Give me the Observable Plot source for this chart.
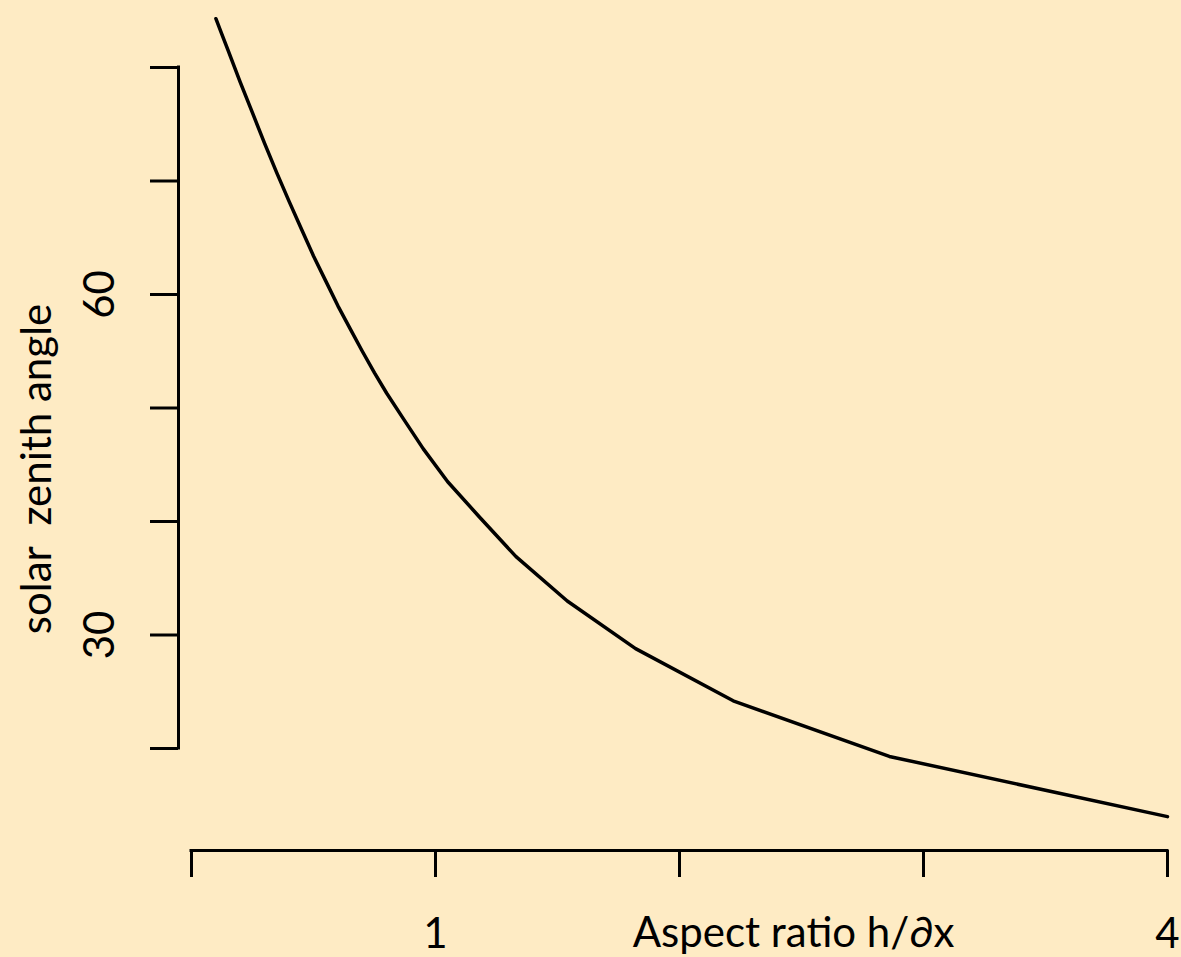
<!DOCTYPE html>
<html><head><meta charset="utf-8">
<script src="https://cdn.jsdelivr.net/npm/d3@7"></script>
<script src="https://cdn.jsdelivr.net/npm/@observablehq/plot@0.6"></script>
<style>
html,body{margin:0;padding:0;background:#FEEBC4;}
#chart svg{display:block}
svg text{white-space:pre}
</style></head><body><div id="chart"></div>
<script>
// Curve: aspect ratio h/∂x vs solar zenith angle (degrees)
const aspectRatio = [0.10, 0.125, 0.15, 0.175, 0.20, 0.25, 0.30, 0.35, 0.40, 0.45, 0.50, 0.55, 0.60, 0.65, 0.70, 0.75, 0.80, 0.87, 0.95, 1.05, 1.18, 1.33, 1.54, 1.82, 2.22, 2.86, 4.00];
const zenithAngle = [84.3, 82.9, 81.5, 80.1, 78.7, 76.0, 73.3, 70.7, 68.2, 65.8, 63.4, 61.2, 59.0, 57.0, 55.0, 53.1, 51.3, 49.0, 46.4, 43.5, 40.4, 36.9, 33.0, 28.8, 24.2, 19.3, 14.0];
const xTicks = [0, 1, 2, 3, 4];
const xTickLabels = ["", "1", "", "", "4"];
const yTicks = [20, 30, 40, 50, 60, 70, 80];
const yTickLabels = ["", "30", "", "", "60", "", ""];
const xTitle = "Aspect ratio h/\u2202x";
const yTitle = "solar  zenith angle";

const data = aspectRatio.map((a, i) => ({a, z: zenithAngle[i]}));
const xLab = new Map(xTicks.map((t, i) => [t, xTickLabels[i]]));
const yLab = new Map(yTicks.map((t, i) => [t, yTickLabels[i]]));
const font = "Lato, 'Open Sans', sans-serif";
const fs = 42;

const chart = Plot.plot({
  width: 1181, height: 957,
  marginLeft: 191, marginRight: 14, marginTop: 67, marginBottom: 209,
  x: {domain: [0, 4], axis: null},
  y: {domain: [20, 80], axis: null},
  style: {background: "#FEEBC4", fontFamily: font, color: "#000", overflow: "visible"},
  marks: [
    // y axis
    Plot.ruleX([0], {y1: 20, y2: 80, dx: -13, strokeWidth: 3, strokeLinecap: "square"}),
    Plot.axisY(yTicks, {anchor: "left", tickSize: 28, dx: -13, strokeWidth: 3,
      tickFormat: d => yLab.get(d) ?? "", tickRotate: -90, textAnchor: "middle",
      lineAnchor: "bottom", tickPadding: 37, fontSize: fs, label: null}),
    // x axis
    Plot.ruleY([20], {x1: 0, x2: 4, dy: 102, strokeWidth: 3, strokeLinecap: "square"}),
    Plot.axisX(xTicks, {anchor: "bottom", tickSize: 27, dy: 102, strokeWidth: 3,
      tickFormat: d => xLab.get(d) ?? "", lineAnchor: "bottom", tickPadding: 70,
      fontSize: fs, label: null}),
    // titles
    Plot.text([xTitle], {frameAnchor: "bottom", dx: 114, dy: 198, lineAnchor: "bottom", textAnchor: "middle", fontSize: fs, fill: "#000"}),
    Plot.text([yTitle], {frameAnchor: "left", rotate: -90, dx: -141, dy: 61, lineAnchor: "bottom", textAnchor: "middle", fontSize: fs, fill: "#000"}),
    // curve
    Plot.line(data, {x: "a", y: "z", stroke: "#000", strokeWidth: 3.5, strokeLinejoin: "round"})
  ]
});
document.getElementById("chart").appendChild(chart);
</script></body></html>
